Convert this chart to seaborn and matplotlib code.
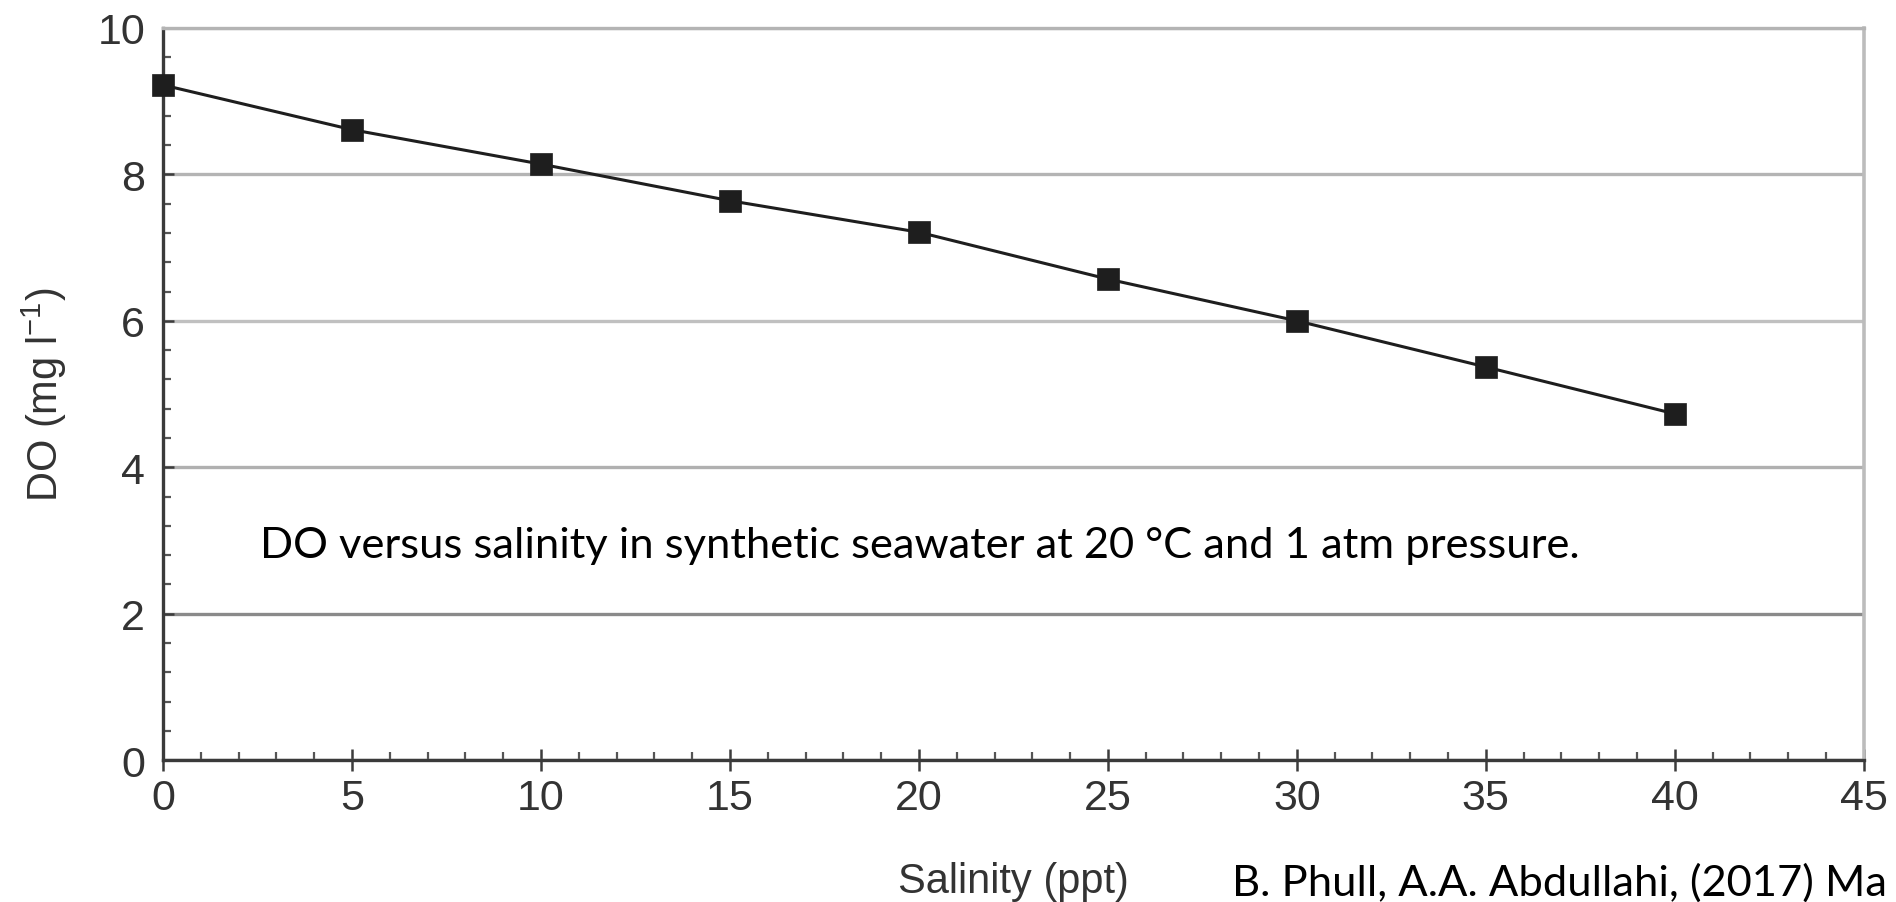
import matplotlib
matplotlib.use("Agg")
import matplotlib.pyplot as plt
from matplotlib.ticker import MultipleLocator
import seaborn as sns
import pandas as pd

# Dissolved oxygen in synthetic seawater (20 °C, 1 atm)
salinity_ppt = [0, 5, 10, 15, 20, 25, 30, 35, 40]
do_mg_per_l = [9.22, 8.61, 8.14, 7.64, 7.21, 6.57, 6.00, 5.37, 4.73]

x_label = "Salinity (ppt)"
y_label = "DO (mg l$^{-1}$)"
caption = "DO versus salinity in synthetic seawater at 20 °C and 1 atm pressure."
citation = "B. Phull, A.A. Abdullahi, (2017) Ma"

df = pd.DataFrame({"salinity": salinity_ppt, "do": do_mg_per_l})

sns.set_theme(style="white")
plt.rcParams["font.family"] = ["Liberation Sans", "DejaVu Sans"]
plt.rcParams["mathtext.fontset"] = "custom"
plt.rcParams["mathtext.rm"] = "Liberation Sans"
plt.rcParams["mathtext.it"] = "Liberation Sans"

fig = plt.figure(figsize=(18.96, 9.03), dpi=100)
ax = fig.add_axes([0.086, 0.157, 0.897, 0.811])

sns.lineplot(data=df, x="salinity", y="do", ax=ax, marker="s", markersize=16,
             color="#1e1e1e", linewidth=2.2, markeredgecolor="#1e1e1e",
             markeredgewidth=0.5, clip_on=False, zorder=5)

ax.set_xlim(0, 45)
ax.set_ylim(0, 10)
ax.xaxis.set_major_locator(MultipleLocator(5))
ax.xaxis.set_minor_locator(MultipleLocator(1))
ax.yaxis.set_major_locator(MultipleLocator(2))
ax.yaxis.set_minor_locator(MultipleLocator(0.4))

tick_color = "#3c3c3c"
ax.tick_params(axis="x", which="major", direction="inout", length=16, width=1.8,
               color=tick_color, labelsize=31, labelcolor="#333333", pad=5,
               bottom=True)
ax.tick_params(axis="x", which="minor", direction="in", length=6, width=1.6,
               color="#555555", bottom=True)
ax.tick_params(axis="y", which="major", direction="in", length=8, width=1.8,
               color=tick_color, labelsize=31, labelcolor="#333333", pad=13,
               left=True)
ax.tick_params(axis="y", which="minor", direction="in", length=6, width=1.6,
               color="#555555", left=True)

# horizontal grid only
ax.yaxis.grid(True, which="major", linewidth=2.4)
ax.xaxis.grid(False)
grid_colors = ["#888888", "#888888", "#8a8a8a", "#b0b0b0", "#c0c0c0", "#b4b4b4"]
for gl, c in zip(ax.get_ygridlines(), grid_colors):
    gl.set_color(c)

for side in ("left", "bottom"):
    ax.spines[side].set_color("#3a3a3a")
    ax.spines[side].set_linewidth(2.4)
ax.spines["top"].set_color("#b4b4b4")
ax.spines["top"].set_linewidth(2.4)
ax.spines["right"].set_color("#bcbcbc")
ax.spines["right"].set_linewidth(2.6)

ax.set_xlabel(x_label, fontsize=30, color="#333333", labelpad=31)
ax.set_ylabel(y_label, fontsize=30, color="#333333", labelpad=20)

ax.text(0.057, 0.277, caption, transform=ax.transAxes, fontsize=31.3,
        family=["Lato", "DejaVu Sans"], color="black", va="baseline", ha="left")
fig.text(0.650, 0.008, citation, fontsize=31.3, family=["Lato", "DejaVu Sans"],
         color="black", va="baseline", ha="left")

fig.savefig("out.png", dpi=100, facecolor="white")
